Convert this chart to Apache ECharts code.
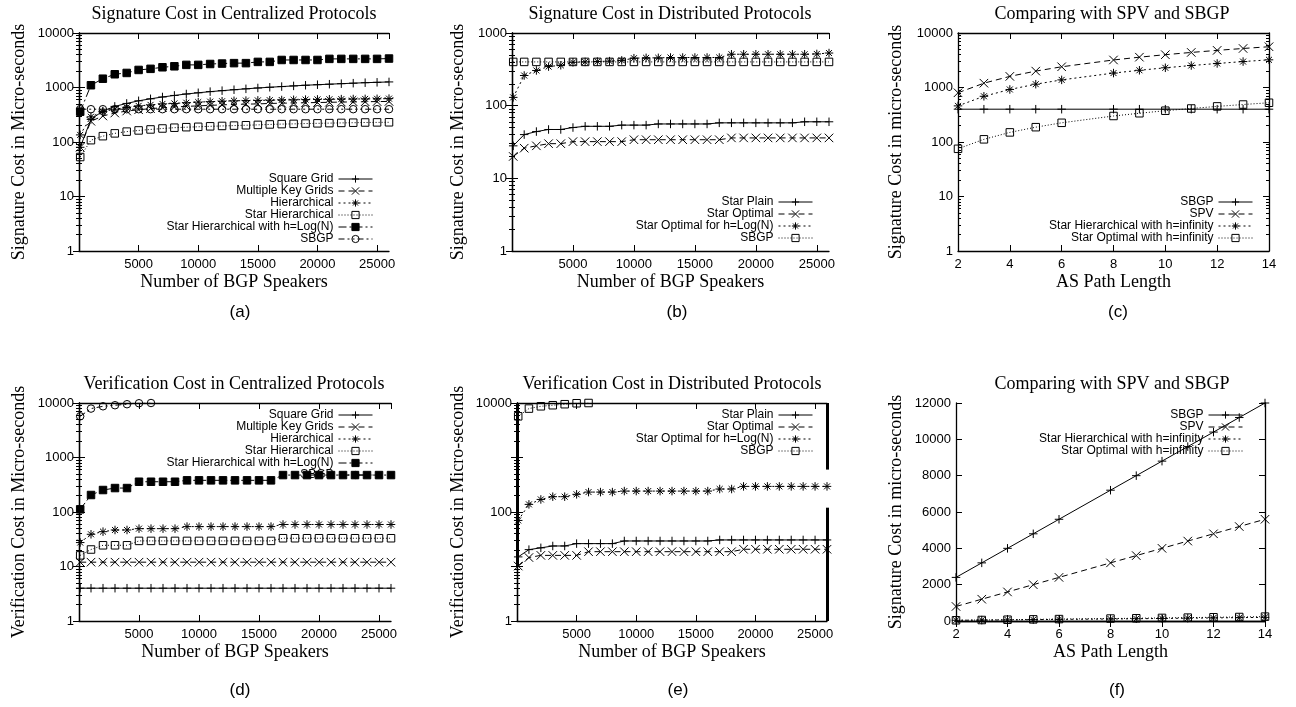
<!DOCTYPE html>
<html><head><meta charset="utf-8">
<script src="https://cdn.jsdelivr.net/npm/echarts@6/dist/echarts.min.js"></script>
<style>html,body{margin:0;padding:0;background:#fff}#c{width:1296px;height:707px}</style>
</head><body><div id="c"></div>
<script>
// ---------- data ----------
const speakers = [100,1000,2000,3000,4000,5000,6000,7000,8000,9000,10000,11000,12000,13000,14000,15000,16000,17000,18000,19000,20000,21000,22000,23000,24000,25000,26000];
const speakersSBGP = [100,1000,2000,3000,4000,5000,6000];
const pathLen = [2,3,4,5,6,8,9,10,11,12,13,14];

// (a) signature cost, centralized
const aSquareGrid = [80,260,370,450,510,570,620,670,715,760,800,840,875,910,945,980,1010,1040,1070,1100,1125,1150,1175,1200,1225,1245,1265];
const aMultiKey = [80,240,300,340,370,390,410,425,440,450,460,470,480,490,495,500,510,515,520,525,530,535,540,545,548,552,555];
const aHier = [135,290,360,400,430,460,480,500,510,525,540,550,560,570,575,580,585,590,595,600,605,608,612,615,618,620,625];
const aStarHier = [53,108,128,144,155,163,170,177,183,187,190,194,197,200,203,206,210,213,215,218,220,222,224,226,228,229,230];
const aStarHierLog = [360,1100,1450,1750,1850,2100,2200,2350,2450,2600,2600,2700,2750,2800,2800,2950,2950,3200,3200,3200,3200,3350,3350,3350,3350,3350,3400];
const aSBGP = [400,400,400,400,400,400,400,400,400,400,400,400,400,400,400,400,400,400,400,400,400,400,400,400,400,400,400];

// (b) signature cost, distributed
const bStarPlain = [28,40,44,47,47,50,52,52,52,54,54,54,56,56,56,56,56,58,58,58,58,58,58,58,60,60,60];
const bStarOpt = [20,26,28,30,30,32,32,32,32,32,34,34,34,34,34,34,34,34,36,36,36,36,36,36,36,36,36];
const bStarOptLog = [130,260,305,345,360,395,400,405,410,420,450,455,455,460,460,460,460,460,510,510,510,510,510,510,510,515,530];
const bSBGP = [400,400,400,400,400,400,400,400,400,400,400,400,400,400,400,400,400,400,400,400,400,400,400,400,400,400,400];

// (c) comparing with SPV and SBGP (log)
const cSBGP = [400,400,400,400,400,400,400,400,400,400,400,400];
const cSPV = [800,1200,1600,2000,2400,3200,3600,4000,4400,4800,5200,5600];
const cStarHierInf = [460,690,920,1150,1380,1840,2070,2300,2530,2760,2990,3220];
const cStarOptInf = [75,112,150,187,225,300,337,375,412,450,487,525];

// (d) verification cost, centralized
const dSquareGrid = [4,4,4,4,4,4,4,4,4,4,4,4,4,4,4,4,4,4,4,4,4,4,4,4,4,4,4];
const dMultiKey = [12,12,12,12,12,12,12,12,12,12,12,12,12,12,12,12,12,12,12,12,12,12,12,12,12,12,12];
const dHier = [27.5,39,43.6,46.8,46.8,49.5,49.5,49.5,49.5,54,54,54,54,54,54,54,54,59,59,59,59,59,59,59,59,59,59];
const dStarHier = [16,20.5,24.5,24.5,24.5,29.5,29.5,29.5,29.5,29.5,29.5,29.5,29.5,29.5,29.5,29.5,29.5,33,33,33,33,33,33,33,33,33,33];
const dStarHierLog = [112,205,253,275,275,359,359,359,359,381,381,381,381,381,381,381,381,476,476,476,476,476,476,476,476,476,476];
const dSBGP = [5700,7900,8700,9100,9500,9900,10000];

// (e) verification cost, distributed
const eStarPlain = [15,20.4,22,23.8,23.8,26.3,26.3,26.3,26.3,29.4,29.4,29.4,29.4,29.4,29.4,29.4,29.4,30.7,30.7,30.7,30.7,30.7,30.7,30.7,30.7,30.7,30.7];
const eStarOpt = [10.2,14.6,16,16,16,16,18.7,18.7,18.7,18.7,18.7,18.7,18.7,18.7,18.7,18.7,18.7,18.7,18.7,20.7,20.7,20.7,20.7,20.7,20.7,20.7,20.7];
const eStarOptLog = [70,138,170,191,191,211,232,232,232,242,242,242,242,242,242,242,242,264,264,295,295,295,295,295,295,295,295];
const eSBGP = [5700,7900,8700,9100,9500,9900,10000];
const eEdgeBars = [[0,10,10000],[26000,600,10000],[26000,1,120]];

// (f) comparing with SPV and SBGP (linear)
const fSBGP = [2400,3200,4000,4800,5600,7200,8000,8800,9600,10400,11200,12000];
const fSPV = [800,1200,1600,2000,2400,3200,3600,4000,4400,4800,5200,5600];
const fStarHierInf = [40,50,60,75,90,110,125,140,155,170,185,200];
const fStarOptInf = [40,55,70,90,105,135,150,170,185,205,220,240];

// ---------- styling helpers ----------
const SANS = '"Liberation Sans", Arial, sans-serif';
const SERIF = '"Liberation Serif", "Times New Roman", serif';
const SYM = {
  plus: 'path://M0,5H10M5,0V10',
  cross: 'path://M0,0L10,10M10,0L0,10',
  star: 'path://M0,5H10M5,0V10M1.5,1.5L8.5,8.5M8.5,1.5L1.5,8.5',
  box: 'rect', fbox: 'rect', circ: 'circle'
};
const DASH = {solid:'solid', dash:[6,4], dot:[2,3], fine:[1,2], dashdot:[8,3,2,3], dashdotdot:[6,3,2,3,2,3]};

function mk(name, gi, xs, ys, sym, dash) {
  const hollow = (sym === 'box' || sym === 'circ');
  return {
    type: 'line', name: name, xAxisIndex: gi*2, yAxisIndex: gi*2,
    data: ys.map((y, i) => [xs[i], y]),
    symbol: SYM[sym], symbolSize: (sym === 'fbox' || hollow) ? 7.5 : 8.5,
    showSymbol: true, showAllSymbol: true, clip: true, z: 3,
    lineStyle: {color: '#000', width: 1, type: DASH[dash]},
    itemStyle: {color: hollow ? 'rgba(255,255,255,0)' : '#000', borderColor: '#000', borderWidth: 1},
    emphasis: {disabled: true}, animation: false
  };
}

const grids = [
  {left:79, top:33, width:310, height:218},
  {left:512, top:33, width:317, height:218},
  {left:958, top:33, width:311, height:218},
  {left:79, top:403, width:312, height:218},
  {left:517, top:403, width:310, height:218},
  {left:956, top:403, width:309, height:218}
];

const xCfg = [
  {min:0, max:26000, interval:5000, name:'Number of BGP Speakers'},
  {min:0, max:26000, interval:5000, name:'Number of BGP Speakers'},
  {min:2, max:14, interval:2, name:'AS Path Length'},
  {min:0, max:26000, interval:5000, name:'Number of BGP Speakers'},
  {min:0, max:26000, interval:5000, name:'Number of BGP Speakers'},
  {min:2, max:14, interval:2, name:'AS Path Length'}
];
const yCfg = [
  {type:'log', min:1, max:10000, name:'Signature Cost in Micro-seconds', gap:51},
  {type:'log', min:1, max:1000, name:'Signature Cost in Micro-seconds', gap:45},
  {type:'log', min:1, max:10000, name:'Signature Cost in micro-seconds', gap:53},
  {type:'log', min:1, max:10000, name:'Verification Cost in Micro-seconds', gap:51, hideOdd:false},
  {type:'log', min:1, max:10000, name:'Verification Cost in Micro-seconds', gap:50, hideOdd:true},
  {type:'value', min:0, max:12000, interval:2000, name:'Signature Cost in micro-seconds', gap:51}
];

const xAxes = [], yAxes = [];
grids.forEach((g, i) => {
  const xc = xCfg[i], yc = yCfg[i];
  const tick = {show:true, inside:true, length:6, lineStyle:{color:'#000', width:1}};
  const line = {show:true, lineStyle:{color:'#000', width:1.3}};
  const baseX = {type:'value', gridIndex:i, min:xc.min, max:xc.max, interval:xc.interval,
    axisLine:line, axisTick:tick, splitLine:{show:false}};
  xAxes.push(Object.assign({}, baseX, {position:'bottom',
    axisLabel:{color:'#000', fontFamily:SANS, fontSize:13, margin:7,
      formatter: v => (v === 0 ? '' : String(v))},
    name: xc.name, nameLocation:'middle', nameGap:22,
    nameTextStyle:{fontFamily:SERIF, fontSize:18, color:'#000'}}));
  xAxes.push(Object.assign({}, baseX, {position:'top', axisLabel:{show:false}}));
  const baseY = {type:yc.type, gridIndex:i, min:yc.min, max:yc.max,
    axisLine:line, axisTick:tick, splitLine:{show:false}};
  if (yc.type === 'log') {
    baseY.logBase = 10;
    baseY.minorTick = {show:true, splitNumber:9, length:3, lineStyle:{color:'#000', width:1}};
    baseY.minorSplitLine = {show:false};
  } else baseY.interval = yc.interval;
  yAxes.push(Object.assign({}, baseY, {position:'left',
    axisLabel:{color:'#000', fontFamily:SANS, fontSize:13, margin:5,
      formatter: v => { const r = Math.round(v); if (yc.hideOdd && (r === 10 || r === 1000)) return ''; return String(r); }},
    name: yc.name, nameLocation:'middle', nameGap:yc.gap,
    nameTextStyle:{fontFamily:SERIF, fontSize:18, color:'#000'}}));
  yAxes.push(Object.assign({}, baseY, {position:'right', axisLabel:{show:false}}));
});

const series = [
  // (a)
  mk('Square Grid#a', 0, speakers, aSquareGrid, 'plus', 'solid'),
  mk('Multiple Key Grids#a', 0, speakers, aMultiKey, 'cross', 'dash'),
  mk('Hierarchical#a', 0, speakers, aHier, 'star', 'dot'),
  mk('Star Hierarchical#a', 0, speakers, aStarHier, 'box', 'fine'),
  mk('Star Hierarchical with h=Log(N)#a', 0, speakers, aStarHierLog, 'fbox', 'dashdot'),
  mk('SBGP#a', 0, speakers, aSBGP, 'circ', 'dashdotdot'),
  // (b)
  mk('Star Plain#b', 1, speakers, bStarPlain, 'plus', 'solid'),
  mk('Star Optimal#b', 1, speakers, bStarOpt, 'cross', 'dash'),
  mk('Star Optimal for h=Log(N)#b', 1, speakers, bStarOptLog, 'star', 'dot'),
  mk('SBGP#b', 1, speakers, bSBGP, 'box', 'fine'),
  // (c)
  mk('SBGP#c', 2, pathLen, cSBGP, 'plus', 'solid'),
  mk('SPV#c', 2, pathLen, cSPV, 'cross', 'dash'),
  mk('Star Hierarchical with h=infinity#c', 2, pathLen, cStarHierInf, 'star', 'dot'),
  mk('Star Optimal with h=infinity#c', 2, pathLen, cStarOptInf, 'box', 'fine'),
  // (d)
  mk('Square Grid#d', 3, speakers, dSquareGrid, 'plus', 'solid'),
  mk('Multiple Key Grids#d', 3, speakers, dMultiKey, 'cross', 'dash'),
  mk('Hierarchical#d', 3, speakers, dHier, 'star', 'dot'),
  mk('Star Hierarchical#d', 3, speakers, dStarHier, 'box', 'fine'),
  mk('Star Hierarchical with h=Log(N)#d', 3, speakers, dStarHierLog, 'fbox', 'dashdot'),
  mk('SBGP#d', 3, speakersSBGP, dSBGP, 'circ', 'dashdotdot'),
  // (e)
  mk('Star Plain#e', 4, speakers, eStarPlain, 'plus', 'solid'),
  mk('Star Optimal#e', 4, speakers, eStarOpt, 'cross', 'dash'),
  mk('Star Optimal for h=Log(N)#e', 4, speakers, eStarOptLog, 'star', 'dot'),
  mk('SBGP#e', 4, speakersSBGP, eSBGP, 'box', 'fine'),
  // (f)
  mk('SBGP#f', 5, pathLen, fSBGP, 'plus', 'solid'),
  mk('SPV#f', 5, pathLen, fSPV, 'cross', 'dash'),
  mk('Star Hierarchical with h=infinity#f', 5, pathLen, fStarHierInf, 'star', 'dot'),
  mk('Star Optimal with h=infinity#f', 5, pathLen, fStarOptInf, 'box', 'fine')
];
// thick edge bars seen in panel (e)
series[20].markLine = {silent:true, symbol:'none', label:{show:false}, animation:false,
  lineStyle:{color:'#000', width:3, type:'solid'},
  data: eEdgeBars.map(b => [{coord:[b[0], b[1]]}, {coord:[b[0], b[2]]}])};

function legendFor(suffix, right, top) {
  const names = series.filter(s => s.name.endsWith('#' + suffix)).map(s => s.name);
  return {
    data: names, orient:'vertical', right:right, top:top, align:'right', padding:0,
    itemWidth:34, itemHeight:9, itemGap:0, selectedMode:false, z:1,
    itemStyle:{borderWidth:1}, lineStyle:{width:1},
    textStyle:{fontFamily:SANS, fontSize:12, color:'#000', lineHeight:11},
    formatter: n => n.split('#')[0]
  };
}
const legends = [
  legendFor('a', 923, 173),
  legendFor('b', 483, 196),
  legendFor('c', 43, 196),
  legendFor('d', 923, 409),
  legendFor('e', 483, 409),
  legendFor('f', 53, 409)
];

const titleDefs = [
  ['Signature Cost in Centralized Protocols', 234, 5],
  ['Signature Cost in Distributed Protocols', 670, 5],
  ['Comparing with SPV and SBGP', 1112, 5],
  ['Verification Cost in Centralized Protocols', 234, 375],
  ['Verification Cost in Distributed Protocols', 672, 375],
  ['Comparing with SPV and SBGP', 1112, 375]
];
const captionDefs = [['(a)',240,304],['(b)',677,304],['(c)',1118,304],['(d)',240,682],['(e)',678,682],['(f)',1117,682]];
const titles = titleDefs.map(t => ({text:t[0], left:t[1], top:t[2], textAlign:'center', padding:0,
  textStyle:{fontFamily:SERIF, fontSize:18, fontWeight:'normal', color:'#000'}}))
  .concat(captionDefs.map(t => ({text:t[0], left:t[1], top:t[2], textAlign:'center', padding:0,
  textStyle:{fontFamily:SANS, fontSize:17, fontWeight:'normal', color:'#000'}})));

const chart = echarts.init(document.getElementById('c'), null, {renderer:'canvas'});
chart.setOption({
  backgroundColor:'#fff', animation:false,
  title: titles,
  grid: grids.map(g => Object.assign({outerBoundsMode:'none', containLabel:false}, g)),
  xAxis: xAxes, yAxis: yAxes,
  legend: legends,
  tooltip: {show:false},
  series: series
});
</script></body></html>
